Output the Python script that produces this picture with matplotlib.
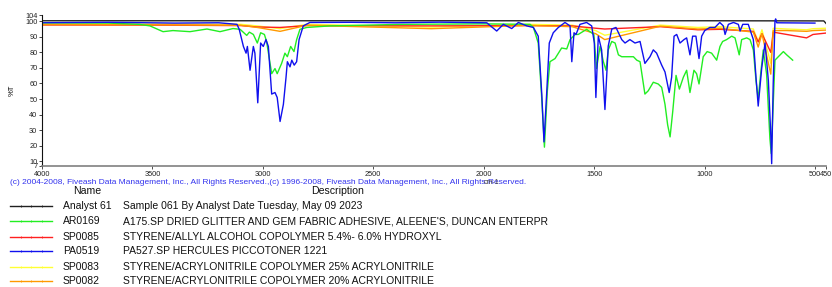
import numpy as np
import matplotlib
matplotlib.use("Agg")
import matplotlib.pyplot as plt

plt.rcParams["font.family"] = ["Liberation Sans", "DejaVu Sans"]

# ── Spectra (wavenumber cm-1, %T) ─────────────────────────────────────────
black_wn = [4000, 3000, 2000, 1000, 460, 450]
black_t = [100.3, 100.3, 100.3, 100.3, 100.2, 98.6]

blue_wn = [4000, 3700, 3400, 3200, 3117, 3107, 3088, 3076, 3070, 3058, 3043, 3036,
           3023, 3010, 2998, 2986, 2975, 2960, 2945, 2935, 2922, 2907, 2895, 2889,
           2877, 2869, 2858, 2847, 2836, 2817, 2787, 2600, 2400, 2200, 1986, 1941,
           1911, 1873, 1843, 1805, 1775, 1753, 1737, 1727, 1715, 1703, 1685, 1662,
           1632, 1609, 1601, 1591, 1582, 1564, 1534, 1511, 1499, 1492, 1481, 1466,
           1451, 1436, 1420, 1401, 1375, 1360, 1338, 1315, 1292, 1270, 1247, 1232,
           1217, 1194, 1179, 1160, 1149, 1138, 1126, 1111, 1093, 1081, 1066, 1054,
           1039, 1025, 1013, 999, 976, 953, 931, 915, 907, 892, 869, 847, 839, 827,
           802, 779, 767, 757, 741, 726, 711, 700, 696, 689, 681, 678, 673, 500]
blue_t = [99.0, 99.3, 98.8, 99.0, 98.0, 94.8, 83.8, 79.5, 83.8, 68.5, 83.8, 79.5,
          47.6, 86.0, 83.8, 88.2, 83.8, 53.2, 54.2, 51.0, 35.6, 46.6, 64.0, 74.0,
          70.7, 75.0, 71.8, 74.0, 88.2, 97.0, 99.2, 99.3, 99.0, 99.4, 99.0, 93.7,
          98.0, 95.3, 99.2, 97.0, 96.0, 90.4, 53.2, 22.5, 53.2, 86.0, 92.6, 96.0,
          99.2, 97.0, 74.0, 92.6, 91.5, 98.0, 99.2, 97.0, 86.0, 51.0, 90.4, 81.6,
          43.3, 84.0, 95.0, 96.0, 88.2, 86.0, 88.2, 86.0, 87.0, 72.9, 77.2, 81.6,
          79.5, 71.8, 67.4, 54.2, 64.0, 90.4, 91.5, 86.0, 88.2, 89.3, 78.4, 90.4,
          90.4, 76.0, 90.4, 94.0, 96.0, 96.0, 99.2, 97.0, 91.5, 98.0, 99.2, 98.0,
          93.7, 98.0, 98.0, 88.2, 64.0, 45.5, 70.0, 86.0, 61.9, 26.8, 8.5, 60.0,
          100.3, 101.5, 99.0, 98.8]

green_wn = [4000, 3700, 3560, 3511, 3452, 3407, 3330, 3253, 3194, 3135, 3103, 3073,
            3061, 3043, 3025, 3010, 2993, 2983, 2960, 2945, 2935, 2915, 2900, 2889,
            2874, 2859, 2847, 2832, 2801, 2696, 2365, 2000, 1790, 1775, 1753, 1737,
            1725, 1712, 1700, 1677, 1647, 1624, 1609, 1586, 1572, 1534, 1501, 1489,
            1473, 1458, 1446, 1436, 1420, 1405, 1390, 1375, 1352, 1322, 1307, 1292,
            1270, 1255, 1232, 1210, 1194, 1179, 1167, 1156, 1144, 1129, 1114, 1096,
            1081, 1066, 1048, 1036, 1025, 1006, 988, 968, 945, 930, 918, 900, 877,
            862, 843, 832, 809, 794, 779, 767, 757, 746, 734, 719, 704, 698, 681,
            666, 643, 628, 601]
green_t = [99.0, 98.8, 98.0, 97.0, 93.3, 94.0, 93.3, 95.0, 93.3, 95.3, 94.8, 90.9,
           93.0, 91.5, 86.0, 92.6, 91.5, 87.0, 66.3, 69.6, 66.3, 72.9, 79.5, 77.2,
           83.8, 80.5, 88.2, 94.8, 96.0, 97.0, 98.0, 98.3, 98.0, 96.0, 86.0, 50.0,
           19.1, 55.0, 74.0, 76.0, 82.8, 82.2, 88.2, 91.5, 91.5, 94.8, 91.5, 69.6,
           83.8, 74.0, 68.5, 81.6, 87.0, 86.0, 78.4, 77.2, 77.2, 77.2, 75.0, 74.0,
           53.2, 55.3, 60.8, 59.7, 57.5, 46.6, 33.4, 25.7, 42.0, 65.2, 56.4, 64.0,
           68.5, 54.2, 68.5, 66.3, 59.7, 77.2, 80.5, 79.5, 75.0, 83.8, 87.0, 88.2,
           90.4, 89.3, 78.4, 88.2, 89.3, 88.2, 81.6, 61.9, 50.0, 66.0, 81.6, 66.0,
           24.6, 15.0, 75.0, 77.2, 80.5, 78.4, 75.0]

red_wn = [4000, 3500, 3100, 3025, 2922, 2800, 2237, 1800, 1600, 1493, 1452, 1200,
          1030, 930, 779, 757, 740, 700, 689, 628, 538, 509, 450]
red_t = [97.6, 97.5, 97.2, 96.3, 96.0, 97.2, 97.0, 97.2, 97.0, 95.5, 95.0, 96.5,
         94.5, 94.8, 93.5, 86.7, 92.0, 80.0, 93.0, 91.5, 89.3, 91.5, 92.4]

yellow_wn = [4000, 3500, 3100, 3025, 2922, 2800, 2237, 1800, 1600, 1493, 1452, 1200,
             1030, 930, 779, 757, 740, 700, 689, 628, 538, 509, 450]
yellow_t = [98.3, 98.2, 98.0, 97.0, 95.2, 98.0, 96.2, 98.0, 97.5, 94.0, 91.0, 97.5,
            96.0, 96.5, 95.0, 87.0, 94.5, 73.0, 95.5, 95.0, 94.5, 95.2, 95.5]

orange_wn = [4000, 3500, 3100, 3025, 2922, 2800, 2237, 1800, 1600, 1493, 1452, 1200,
             1030, 930, 779, 757, 740, 700, 689, 628, 538, 509, 450]
orange_t = [97.8, 97.7, 97.4, 96.0, 93.5, 97.4, 95.2, 97.3, 96.5, 92.0, 88.2, 96.8,
            95.0, 95.5, 93.0, 83.4, 92.0, 66.0, 94.0, 94.0, 93.5, 94.0, 94.3]

names = ["Analyst 61", "AR0169", "SP0085", "PA0519", "SP0083", "SP0082"]
descriptions = [
    "Sample 061 By Analyst Date Tuesday, May 09 2023",
    "A175.SP DRIED GLITTER AND GEM FABRIC ADHESIVE, ALEENE'S, DUNCAN ENTERPR",
    "STYRENE/ALLYL ALCOHOL COPOLYMER 5.4%- 6.0% HYDROXYL",
    "PA527.SP HERCULES PICCOTONER 1221",
    "STYRENE/ACRYLONITRILE COPOLYMER 25% ACRYLONITRILE",
    "STYRENE/ACRYLONITRILE COPOLYMER 20% ACRYLONITRILE",
]
colors = ["#202020", "#22ee22", "#ff2020", "#1010ee", "#ffff33", "#ff9900"]

x_ticks = [4000, 3500, 3000, 2500, 2000, 1500, 1000, 500, 450]
y_ticks = [7, 10, 20, 30, 40, 50, 60, 70, 80, 90, 100, 104]

W, H = 832, 287
fig = plt.figure(figsize=(W / 100, H / 100), dpi=100, facecolor="white")
ax = fig.add_axes([42 / W, (H - 166) / H, 784 / W, 151 / H])

series = {
    "yellow": (yellow_wn, yellow_t, colors[4]),
    "red": (red_wn, red_t, colors[2]),
    "orange": (orange_wn, orange_t, colors[5]),
    "green": (green_wn, green_t, colors[1]),
    "black": (black_wn, black_t, colors[0]),
    "blue": (blue_wn, blue_t, colors[3]),
}
for key, (wn, t, c) in series.items():
    ax.plot(wn, t, color=c, lw=1.0, solid_joinstyle="round")

ax.set_xlim(4000, 450)
ax.set_ylim(7, 104)
ax.set_xticks(x_ticks)
ax.set_xticklabels([str(v) for v in x_ticks], fontsize=5.3)
ax.set_yticks(y_ticks)
ax.set_yticklabels([str(v) for v in y_ticks], fontsize=5.3)
ax.tick_params(axis="both", direction="out", length=2.5, width=0.6, pad=0.8)
ax.tick_params(axis="x", colors="#333333", labelcolor="#222222")
ax.tick_params(axis="y", colors="#222222")
for s in ("top", "right"):
    ax.spines[s].set_visible(False)
ax.spines["left"].set_color("#111111")
ax.spines["left"].set_linewidth(0.8)
ax.spines["bottom"].set_color("#808080")
ax.spines["bottom"].set_linewidth(1.2)
ax.set_ylabel("%T", fontsize=5.5, labelpad=7)

# ── Footer: copyright, axis unit, legend table ────────────────────────────
fig.text(10 / W, 1 - 182 / H,
         "(c) 2004-2008, Fiveash Data Management, Inc., All Rights Reserved.,"
         "(c) 1996-2008, Fiveash Data Management, Inc., All Rights Reserved.",
         color="#3333ee", fontsize=6.05, va="center", ha="left")
fig.text(492 / W, 1 - 183 / H, "cm-1", color="#444444", fontsize=5,
         va="center", ha="center")
fig.text(87 / W, 1 - 191 / H, "Name", fontsize=7.6, va="center", ha="center",
         color="#111111")
fig.text(338 / W, 1 - 191 / H, "Description", fontsize=7.6, va="center",
         ha="center", color="#111111")

leg = fig.add_axes([0, 0, 1, 1], facecolor="none")
leg.set_xlim(0, W)
leg.set_ylim(H, 0)
leg.axis("off")
row_y = [206, 221, 236.5, 251, 266.5, 281]
for i, (nm, desc) in enumerate(zip(names, descriptions)):
    y = row_y[i]
    leg.plot([10, 52], [y, y], color=colors[i], lw=1.0)
    leg.plot(np.linspace(10, 52, 5)[1:-1], [y] * 3, ls="none", marker="|",
             ms=2, mew=0.6, color=colors[i])
    leg.text(63, y, nm, fontsize=7.5, va="center", ha="left", color="#111111")
    leg.text(123, y, desc, fontsize=7.5, va="center", ha="left", color="#111111")

fig.savefig("out.png", dpi=100, facecolor="white")
